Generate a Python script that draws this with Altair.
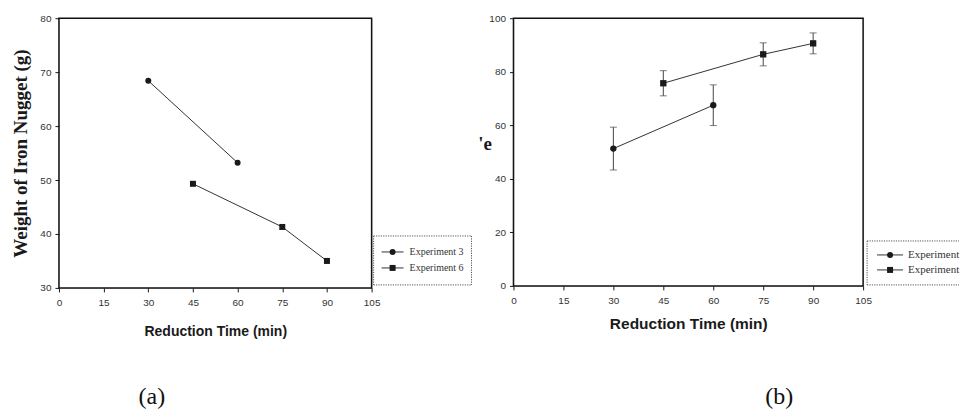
import altair as alt
import pandas as pd

# ---------------- data ----------------
series_names = ["Experiment 3", "Experiment 6"]

time_exp3 = [30, 60]
time_exp6 = [45, 75, 90]

# (a) weight of iron nugget (g)
weight_exp3 = [68.4, 53.2]
weight_exp6 = [49.3, 41.3, 35.0]

# (b) percentage values with error bars
pct_exp3 = [51.3, 67.5]
err_exp3 = [8.0, 7.6]
pct_exp6 = [75.7, 86.5, 90.6]
err_exp6 = [4.7, 4.3, 3.9]

x_ticks = [0, 15, 30, 45, 60, 75, 90, 105]
ya_ticks = [30, 40, 50, 60, 70, 80]
yb_ticks = [0, 20, 40, 60, 80, 100]

x_title = "Reduction Time (min)"
ya_title = "Weight of Iron Nugget (g)"
yb_title = "'e"
captions = ["(a)", "(b)"]

# ---------------- tables ----------------
df_a = pd.DataFrame({
    "time": time_exp3 + time_exp6,
    "value": weight_exp3 + weight_exp6,
    "series": [series_names[0]] * len(time_exp3) + [series_names[1]] * len(time_exp6),
})
df_b = pd.DataFrame({
    "time": time_exp3 + time_exp6,
    "value": pct_exp3 + pct_exp6,
    "err": err_exp3 + err_exp6,
    "series": [series_names[0]] * len(time_exp3) + [series_names[1]] * len(time_exp6),
})
df_b["lo"] = df_b["value"] - df_b["err"]
df_b["hi"] = df_b["value"] + df_b["err"]

SANS = "Liberation Sans"
SERIF = "Liberation Serif"
INK = "#1a1a1a"
LINE = "#333333"
LABEL_SIZE = 10

shape_scale = alt.Scale(domain=series_names, range=["circle", "square"])
one = alt.Data(values=[{}])

W_A, H_A = 313, 270
W_B, H_B = 350, 268


def x_axis(title_y, title_size):
    return alt.Axis(values=x_ticks, title=x_title, titleFont=SANS, titleFontSize=title_size,
                    titleFontWeight="bold", titleColor=INK, titleY=title_y,
                    titleBaseline="middle", labelFont=SANS, labelFontSize=LABEL_SIZE,
                    labelColor="#333", labelPadding=6, labelFlush=False, tickSize=4,
                    tickColor=INK, grid=False, domain=False)


def frame(w, h):
    return alt.Chart(one).mark_rect(fill=None, stroke="#111", strokeWidth=1.5).encode(
        x=alt.value(0), x2=alt.value(w), y=alt.value(0), y2=alt.value(h))


def legend_layers(box_x, box_y1, box_y2, box_x2, right_edge, row_y, line_x1, line_x2,
                  text_x, font_size, limit=None):
    layers = []
    dash = [1.2, 1.2]
    sty = dict(color="#555", strokeWidth=1, strokeDash=dash)
    layers.append(alt.Chart(one).mark_rule(**sty).encode(
        x=alt.value(box_x), x2=alt.value(box_x2), y=alt.value(box_y1), y2=alt.value(box_y1)))
    layers.append(alt.Chart(one).mark_rule(**sty).encode(
        x=alt.value(box_x), x2=alt.value(box_x2), y=alt.value(box_y2), y2=alt.value(box_y2)))
    layers.append(alt.Chart(one).mark_rule(**sty).encode(
        x=alt.value(box_x), x2=alt.value(box_x), y=alt.value(box_y1), y2=alt.value(box_y2)))
    if right_edge:
        layers.append(alt.Chart(one).mark_rule(**sty).encode(
            x=alt.value(box_x2), x2=alt.value(box_x2), y=alt.value(box_y1), y2=alt.value(box_y2)))
    shapes = ["circle", "square"]
    for i, name in enumerate(series_names):
        yy = row_y[i]
        layers.append(alt.Chart(one).mark_rule(color=LINE, strokeWidth=1).encode(
            x=alt.value(line_x1), x2=alt.value(line_x2), y=alt.value(yy), y2=alt.value(yy)))
        layers.append(alt.Chart(one).mark_point(shape=shapes[i], filled=True, color=INK,
                                                size=36, opacity=1).encode(
            x=alt.value((line_x1 + line_x2) / 2), y=alt.value(yy)))
        tkw = dict(align="left", baseline="middle", font=SERIF, fontSize=font_size, color="#333")
        if limit:
            tkw.update(limit=limit, ellipsis="\u200a")
        layers.append(alt.Chart(one).mark_text(**tkw).encode(
            x=alt.value(text_x), y=alt.value(yy), text=alt.value(name)))
    return layers


# ---------------- panel (a) ----------------
xa = alt.X("time:Q", scale=alt.Scale(domain=[0, 105], nice=False), axis=x_axis(44, 14))
ya = alt.Y("value:Q", scale=alt.Scale(domain=[30, 80], nice=False, zero=False),
           axis=alt.Axis(values=ya_ticks, title=ya_title, titleFont=SERIF, titleFontSize=19,
                         titleFontWeight="bold", titleColor=INK, titleAngle=270, titleX=-38,
                         titleY=H_A / 2, titleAlign="center", titleBaseline="middle",
                         labelFont=SANS, labelFontSize=LABEL_SIZE, labelColor="#333",
                         labelPadding=4, labelFlush=False, tickSize=4, tickColor=INK,
                         grid=False, domain=False))

base_a = alt.Chart(df_a)
line_a = base_a.mark_line(color=LINE, strokeWidth=1).encode(x=xa, y=ya, detail="series:N")
pts_a = base_a.mark_point(filled=True, color=INK, size=36, opacity=1).encode(
    x="time:Q", y="value:Q",
    shape=alt.Shape("series:N", scale=shape_scale, legend=None))

anchor = alt.Chart(one).mark_rule(color="white", strokeWidth=1).encode(
    x=alt.value(-49.5), x2=alt.value(-40), y=alt.value(-8.5), y2=alt.value(-8.5))

cap_a = alt.Chart(one).mark_text(font=SERIF, fontSize=24, color="#111", baseline="middle").encode(
    x=alt.value(151 - 58), y=alt.value(396.5 - 17), text=alt.value(captions[0]))

leg_a = legend_layers(box_x=315, box_y1=218, box_y2=267, box_x2=413, right_edge=True,
                      row_y=[234, 250], line_x1=323, line_x2=345, text_x=351, font_size=10)

panel_a = alt.layer(anchor, line_a, pts_a, frame(W_A, H_A), cap_a, *leg_a).properties(
    width=W_A, height=H_A)

# ---------------- panel (b) ----------------
xb = alt.X("time:Q", scale=alt.Scale(domain=[0, 105], nice=False), axis=x_axis(38, 15.5))
yb_axis = alt.Axis(values=yb_ticks, title=yb_title, titleFont=SERIF, titleFontSize=19,
                   titleFontWeight="bold", titleColor=INK, titleAngle=0, titleX=-29,
                   titleY=125, titleAlign="center", titleBaseline="middle",
                   labelFont=SANS, labelFontSize=LABEL_SIZE, labelColor="#333", labelPadding=4,
                   labelFlush=False, tickSize=4, tickColor=INK, grid=False, domain=False)
yb_scale = alt.Scale(domain=[0, 100], nice=False)

base_b = alt.Chart(df_b)
err_b = base_b.mark_rule(color="#444", strokeWidth=1).encode(
    x=xb, y=alt.Y("lo:Q", scale=yb_scale, axis=yb_axis), y2="hi:Q")
cap_lo = base_b.mark_tick(orient="horizontal", size=7, thickness=1, color="#444").encode(
    x="time:Q", y="lo:Q")
cap_hi = base_b.mark_tick(orient="horizontal", size=7, thickness=1, color="#444").encode(
    x="time:Q", y="hi:Q")
line_b = base_b.mark_line(color=LINE, strokeWidth=1).encode(
    x="time:Q", y="value:Q", detail="series:N")
pts_b = base_b.mark_point(filled=True, color=INK, size=40, opacity=1).encode(
    x="time:Q", y="value:Q",
    shape=alt.Shape("series:N", scale=shape_scale, legend=None))

cap_b = alt.Chart(one).mark_text(font=SERIF, fontSize=24, color="#111", baseline="middle").encode(
    x=alt.value(779 - 513), y=alt.value(396.5 - 17), text=alt.value(captions[1]))

leg_b = legend_layers(box_x=354, box_y1=223, box_y2=267, box_x2=446, right_edge=False,
                      row_y=[237, 252], line_x1=364, line_x2=390, text_x=395, font_size=11,
                      limit=53)

panel_b = alt.layer(err_b, cap_lo, cap_hi, line_b, pts_b, frame(W_B, H_B), cap_b, *leg_b).properties(
    width=W_B, height=H_B)

chart = alt.hconcat(panel_a, panel_b, spacing=142, bounds="flush").properties(
    padding={"left": 0, "top": 0, "right": 0, "bottom": 0}
).configure_view(strokeWidth=0, stroke=None).configure(background="white")

chart.save("out.html", embed_options={"renderer": "svg", "actions": False})
